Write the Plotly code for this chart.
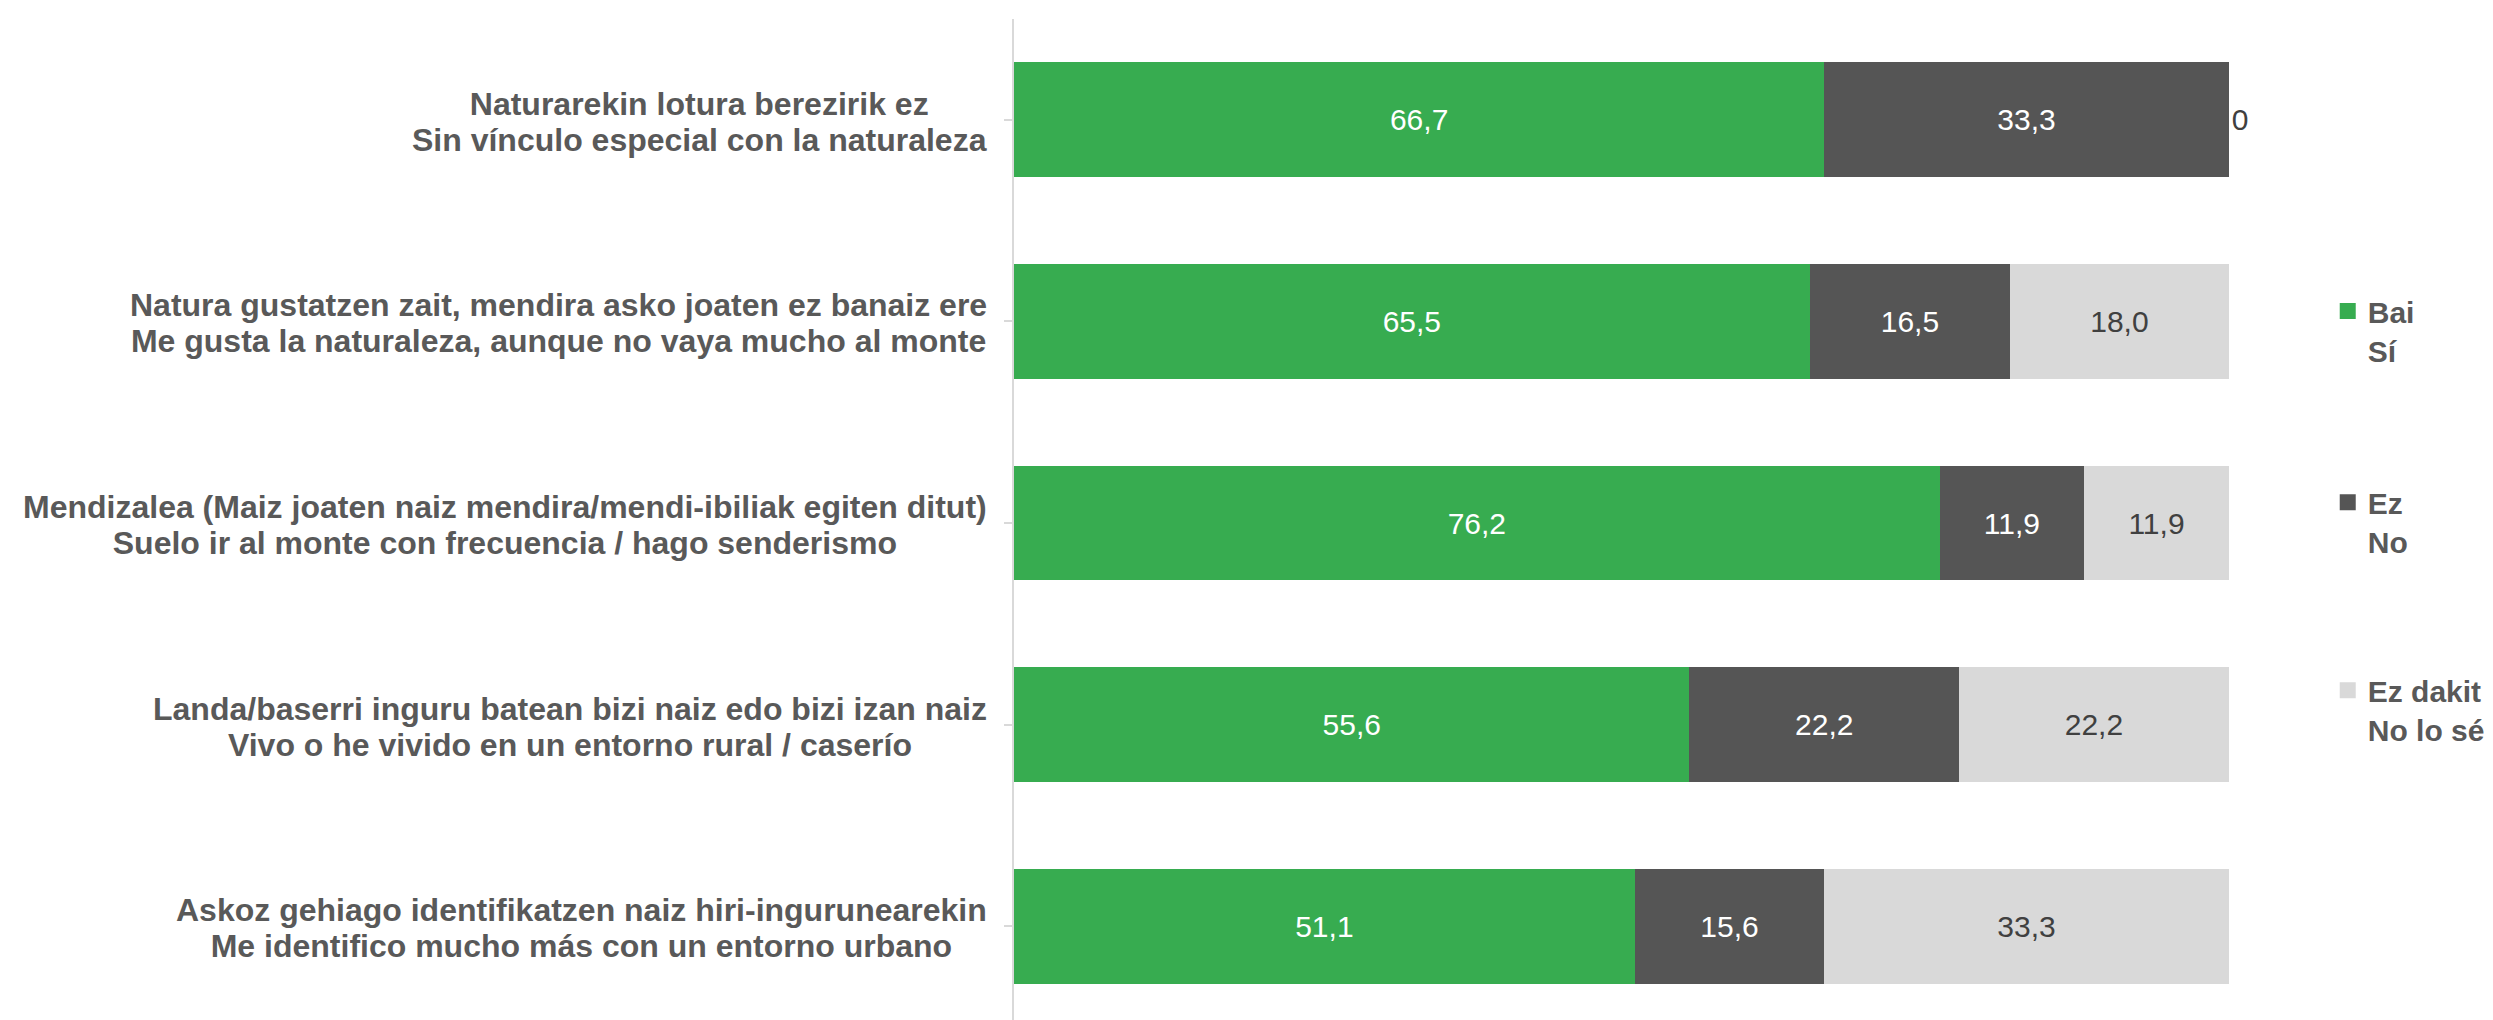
import plotly.graph_objects as go

# ---- data ----
categories = [
    ["Naturarekin lotura berezirik ez", "Sin vínculo especial con la naturaleza"],
    ["Natura gustatzen zait, mendira asko joaten ez banaiz ere",
     "Me gusta la naturaleza, aunque no vaya mucho al monte"],
    ["Mendizalea (Maiz joaten naiz mendira/mendi-ibiliak egiten ditut)",
     "Suelo ir al monte con frecuencia / hago senderismo"],
    ["Landa/baserri inguru batean bizi naiz edo bizi izan naiz",
     "Vivo o he vivido en un entorno rural / caserío"],
    ["Askoz gehiago identifikatzen naiz hiri-ingurunearekin",
     "Me identifico mucho más con un entorno urbano"],
]
bai = [66.7, 65.5, 76.2, 55.6, 51.1]
ez = [33.3, 16.5, 11.9, 22.2, 15.6]
ez_dakit = [0, 18.0, 11.9, 22.2, 33.3]
series_names = ["Bai<br>Sí", "Ez<br>No", "Ez dakit<br>No lo sé"]

FONT = "Liberation Sans, Arial, sans-serif"
colors = ["#37AC50", "#555555", "#D9D9D9"]
text_colors = ["#FFFFFF", "#FFFFFF", "#404040"]


def fmt(v):
    return "0" if v == 0 else f"{v:.1f}".replace(".", ",")


idx = list(range(len(categories)))
fig = go.Figure()
legends = ["legend", "legend2", "legend3"]
for k, vals in enumerate([bai, ez, ez_dakit]):
    positions = ["outside" if v == 0 else "inside" for v in vals]
    fig.add_trace(go.Bar(
        y=idx, x=vals, orientation="h",
        name=series_names[k],
        marker=dict(color=colors[k], line=dict(width=0)),
        text=[fmt(v) for v in vals],
        textposition=positions,
        insidetextanchor="middle",
        textfont=dict(family=FONT, size=30, color=text_colors[k]),
        outsidetextfont=dict(family=FONT, size=30, color="#404040"),
        constraintext="none",
        cliponaxis=False,
        showlegend=False,
        hoverinfo="skip",
    ))
    # legend entry with a larger square swatch
    fig.add_trace(go.Scatter(
        x=[None], y=[None], mode="markers",
        name=series_names[k],
        marker=dict(symbol="square", size=16, color=colors[k]),
        legend=legends[k],
        hoverinfo="skip",
    ))

# category labels (centred two-line text, right edge near the axis)
for i, (l1, l2) in enumerate(categories):
    txt = (f'<span style="font-size:32px">{l1}</span><br>'
           f'<span style="font-size:32px">{l2}</span>')
    fig.add_annotation(
        x=0, y=i, xref="paper", yref="y",
        text=txt, showarrow=False,
        xanchor="right", yanchor="middle", align="center",
        xshift=-25, yshift=-2,
        font=dict(family=FONT, size=27.5, color="#595959", weight="bold"),
    )

legend_common = dict(
    xref="container", yref="container",
    xanchor="left", yanchor="top",
    valign="top",
    bgcolor="rgba(0,0,0,0)",
    font=dict(family=FONT, size=30, color="#595959", weight="bold"),
    itemclick=False, itemdoubleclick=False,
)
fig.update_layout(
    width=2493, height=1020,
    margin=dict(l=1006, r=272, t=11, b=8),
    paper_bgcolor="white", plot_bgcolor="white",
    barmode="stack", bargap=0.43,
    showlegend=True,
    legend=dict(x=0.9305, y=0.7285, **legend_common),
    legend2=dict(x=0.9305, y=0.541, **legend_common),
    legend3=dict(x=0.9305, y=0.3565, **legend_common),
    xaxis=dict(range=[0, 100.02], visible=False, fixedrange=True),
    yaxis=dict(
        range=[4.465, -0.5],
        tickmode="array", tickvals=idx, ticktext=[""] * len(idx),
        showticklabels=False,
        tickson="boundaries",
        ticks="outside", ticklen=8, tickwidth=2, tickcolor="#D9D9D9",
        showline=True, linecolor="#D9D9D9", linewidth=2,
        showgrid=False, zeroline=False, fixedrange=True,
    ),
)

fig.write_html("out.html")
